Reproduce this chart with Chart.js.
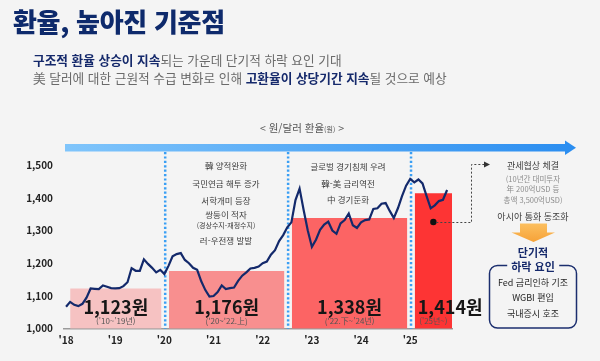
<!DOCTYPE html>
<html lang="ko">
<head>
<meta charset="utf-8">
<title>환율, 높아진 기준점</title>
<script src="https://cdn.jsdelivr.net/npm/chart.js@4.4.1/dist/chart.umd.min.js"></script>
<style>
  html, body { margin: 0; padding: 0; background: #f4f4f4; }
  #wrap { position: relative; width: 600px; height: 361px; overflow: hidden;
          font-family: "Noto Sans CJK KR", "Noto Sans", sans-serif; color: #3a3a3a; }
  #chart { position: absolute; left: 0; top: 0; }
  .txt { position: absolute; white-space: nowrap; line-height: 1; transform: translate(-50%, -50%); }
  h1 { position: absolute; margin: 0; left: 13px; top: 21px; transform: translate(0, -50%);
       font-size: 26px; font-weight: 900; color: #0e2a6c; line-height: 1; letter-spacing: -0.3px; white-space: nowrap; }
  .sub { position: absolute; left: 33px; font-size: 12.7px; color: #6a6a6a; line-height: 1;
         transform: translate(0, -50%); white-space: nowrap; }
  .sub b { color: #15296b; font-weight: 700; }
  .head { font-size: 10.5px; color: #555; }
  .head small { font-size: 7px; }
  .note { font-size: 8.5px; color: #3c3c3c; }
  .small { font-size: 7.5px; color: #8c8c8c; }
  .key { font-size: 11px; font-weight: 700; color: #15296b; }
  .cut { background: #f4f4f4; padding: 0 4px; }
  .item { font-size: 9px; color: #262626; }
</style>
</head>
<body>
<div id="wrap">
  <canvas id="chart" width="600" height="361"></canvas>

  <h1>환율, 높아진 기준점</h1>
  <div class="sub" style="top:60px"><b>구조적 환율 상승이 지속</b>되는 가운데 단기적 하락 요인 기대</div>
  <div class="sub" style="top:78px">美 달러에 대한 근원적 수급 변화로 인해 <b>고환율이 상당기간 지속</b>될 것으로 예상</div>

  <div class="txt head" style="left:302px; top:128px">&lt; 원/달러 환율<small>(원)</small> &gt;</div>

  <div class="txt note" style="left:226px; top:165px">韓 양적완화</div>
  <div class="txt note" style="left:226px; top:182.5px">국민연금 해투 증가</div>
  <div class="txt note" style="left:226px; top:200px">서학개미 등장</div>
  <div class="txt note" style="left:226px; top:214px">쌍둥이 적자</div>
  <div class="txt note" style="left:226px; top:225px; font-size:7px">(경상수지-재정수지)</div>
  <div class="txt note" style="left:226px; top:240px">러-우전쟁 발발</div>

  <div class="txt note" style="left:348px; top:166px">글로벌 경기침체 우려</div>
  <div class="txt note" style="left:348px; top:182.5px">韓-美 금리역전</div>
  <div class="txt note" style="left:348px; top:198.5px">中 경기둔화</div>

  <div class="txt note" style="left:533px; top:165px; font-size:9px">관세협상 체결</div>
  <div class="txt small" style="left:533px; top:178.5px">(10년간 대미투자</div>
  <div class="txt small" style="left:533px; top:189px">年 200억USD 등</div>
  <div class="txt small" style="left:533px; top:199.5px">총액 3,500억USD)</div>
  <div class="txt note" style="left:533px; top:216px; font-size:9px">아시아 통화 동조화</div>

  <div class="txt key" style="left:533px; top:252px">단기적</div>
  <div class="txt key cut" style="left:533px; top:266px">하락 요인</div>
  <div class="txt item" style="left:533px; top:282px">Fed 금리인하 기조</div>
  <div class="txt item" style="left:533px; top:297px">WGBI 편입</div>
  <div class="txt item" style="left:533px; top:313px">국내증시 호조</div>
</div>

<script>
// 원/달러 월평균 환율, 2018.01 ~ 2025.10 (x = 2018년 1월부터의 개월 수)
const startYear = 2018;
const usdKrw = [
  1067, 1082, 1073, 1069, 1076, 1095, 1123, 1122, 1121, 1132, 1128, 1124,
  1123, 1124, 1130, 1142, 1185, 1177, 1177, 1212, 1198, 1186, 1172, 1180,
  1167, 1192, 1221, 1228, 1231, 1210, 1200, 1186, 1180, 1145, 1118, 1098,
  1100, 1112, 1132, 1121, 1124, 1126, 1146, 1162, 1172, 1184, 1186, 1190,
  1200, 1205, 1226, 1240, 1268, 1286, 1310, 1325, 1393, 1428, 1362, 1300,
  1250, 1272, 1302, 1318, 1327, 1300, 1290, 1322, 1332, 1352, 1316, 1308,
  1325, 1332, 1334, 1366, 1368, 1382, 1384, 1360, 1338, 1368, 1405, 1437,
  1458, 1447, 1456, 1444, 1405, 1368, 1377, 1390, 1394, 1424
];

const yearTicks = ["'18", "'19", "'20", "'21", "'22", "'23", "'24", "'25"];
const yTicks = [1000, 1100, 1200, 1300, 1400, 1500];

// 구간별 평균 환율
const periodAvg = [1123, 1176, 1338, 1414];
const periodNames = ["('10~'19년)", "('20~'22.上)", "('22.下~'24년)", "('25년~)"];
const periodEdges = [1, 24.2, 54.2, 84.2, 94.2];

const barColors = ['#f6c2c2', '#f88f8f', '#fc6464', '#fd3434'];
const GAP = 0.9;
const FONT = '"Noto Sans CJK KR", "Noto Sans", sans-serif';

function barRange(i) {
  const a = periodEdges[i] + (i > 0 ? GAP : 0);
  const b = periodEdges[i + 1] - (i < periodAvg.length - 1 ? GAP : 0);
  return [a, b];
}

const datasets = periodAvg.map((v, i) => {
  const [a, b] = barRange(i);
  return {
    type: 'line',
    data: [{ x: a, y: v }, { x: b, y: v }],
    backgroundColor: barColors[i],
    borderWidth: 0,
    pointRadius: 0,
    fill: 'start',
    order: 2
  };
});
datasets.push({
  type: 'line',
  data: usdKrw.map((v, i) => ({ x: i, y: v })),
  borderColor: '#13296b',
  borderWidth: 2.2,
  pointRadius: 0,
  tension: 0,
  fill: false,
  order: 0
});

const deco = {
  id: 'deco',
  beforeDatasetsDraw(chart) {
    const { ctx, chartArea, scales: { x } } = chart;
    ctx.save();
    ctx.strokeStyle = '#3a9ff4';
    ctx.lineWidth = 2.5;
    ctx.setLineDash([2.2, 2.2]);
    periodEdges.slice(1, -1).forEach(m => {
      const px = x.getPixelForValue(m);
      ctx.beginPath();
      ctx.moveTo(px, chartArea.top);
      ctx.lineTo(px, chartArea.bottom);
      ctx.stroke();
    });
    ctx.restore();
  },
  afterDatasetsDraw(chart) {
    const { ctx, scales: { x, y } } = chart;
    const base = y.getPixelForValue(1000);
    ctx.save();
    periodAvg.forEach((v, i) => {
      const [a, b] = barRange(i);
      const xa = x.getPixelForValue(a), xb = x.getPixelForValue(b);
      const cx = (xa + xb) / 2;
      const last = i === periodAvg.length - 1;
      ctx.fillStyle = '#161616';
      ctx.font = 'bold 18px ' + FONT;
      ctx.textBaseline = 'middle';
      ctx.textAlign = last ? 'left' : 'center';
      ctx.fillText(v.toLocaleString('en-US') + '원', last ? xa + 3 : cx, base - 21.5);
      ctx.fillStyle = '#555';
      ctx.font = '8px ' + FONT;
      ctx.textAlign = 'center';
      ctx.fillText(periodNames[i], cx, base - 8);
    });
    ctx.restore();
  },
  afterDraw(chart) {
    const { ctx, scales: { x } } = chart;
    ctx.save();
    // 상단 화살표
    const g = ctx.createLinearGradient(65, 0, 576, 0);
    g.addColorStop(0, '#80c5fb');
    g.addColorStop(1, '#2a8df0');
    ctx.fillStyle = g;
    ctx.fillRect(65, 144, 501, 7.5);
    ctx.beginPath();
    ctx.moveTo(565, 140.5);
    ctx.lineTo(576, 147.7);
    ctx.lineTo(565, 155);
    ctx.closePath();
    ctx.fill();

    // '25년 구간 설명선
    const [a, b] = barRange(3);
    const dx = (x.getPixelForValue(a) + x.getPixelForValue(b)) / 2;
    ctx.fillStyle = '#111';
    ctx.beginPath();
    ctx.arc(dx, 222, 3.2, 0, Math.PI * 2);
    ctx.fill();
    ctx.strokeStyle = '#444';
    ctx.lineWidth = 1;
    ctx.setLineDash([2, 2]);
    ctx.beginPath();
    ctx.moveTo(dx + 3, 222.5);
    ctx.lineTo(471.5, 222.5);
    ctx.lineTo(471.5, 164.5);
    ctx.lineTo(484, 164.5);
    ctx.stroke();
    ctx.setLineDash([]);
    ctx.fillStyle = '#333';
    ctx.beginPath();
    ctx.moveTo(484, 161.5);
    ctx.lineTo(490, 164.5);
    ctx.lineTo(484, 167.5);
    ctx.closePath();
    ctx.fill();

    // 주황 화살표
    const og = ctx.createLinearGradient(0, 223, 0, 242);
    og.addColorStop(0, '#fcc060');
    og.addColorStop(1, '#f6a238');
    ctx.fillStyle = og;
    ctx.beginPath();
    ctx.moveTo(520, 223.5);
    ctx.lineTo(547, 223.5);
    ctx.lineTo(547, 232.5);
    ctx.lineTo(555, 232.5);
    ctx.lineTo(533.5, 242);
    ctx.lineTo(511.5, 232.5);
    ctx.lineTo(520, 232.5);
    ctx.closePath();
    ctx.fill();

    // 하락 요인 박스
    ctx.strokeStyle = '#1b2e6e';
    ctx.lineWidth = 1.5;
    ctx.beginPath();
    ctx.roundRect(489.5, 265.5, 87, 62.5, 8);
    ctx.stroke();
    ctx.restore();
  }
};

new Chart(document.getElementById('chart'), {
  type: 'line',
  data: { datasets },
  plugins: [deco],
  options: {
    responsive: false,
    animation: false,
    layout: { padding: { top: 152, right: 148, left: 0, bottom: 0 } },
    plugins: { legend: { display: false }, tooltip: { enabled: false } },
    scales: {
      x: {
        type: 'linear',
        min: -0.5,
        max: 94.2,
        z: 1,
        grid: { display: false, drawTicks: false },
        border: { display: true, color: '#9b9b9b', width: 1.5 },
        afterBuildTicks: s => { s.ticks = yearTicks.map((_, i) => ({ value: i * 12 })); },
        afterFit: s => { s.height = 32.3; },
        ticks: {
          padding: 6,
          autoSkip: false,
          maxRotation: 0,
          color: '#222',
          font: { family: FONT, size: 10, weight: 'bold' },
          callback: v => yearTicks[Math.round(v / 12)]
        }
      },
      y: {
        min: 1000,
        max: 1540,
        grid: { display: false, drawTicks: false },
        border: { display: false },
        afterBuildTicks: s => { s.ticks = yTicks.map(v => ({ value: v })); },
        afterFit: s => { s.width = 64; },
        ticks: {
          padding: 11,
          color: '#222',
          font: { family: FONT, size: 10, weight: 'bold' },
          callback: v => v.toLocaleString('en-US')
        }
      }
    }
  }
});
</script>
</body>
</html>
